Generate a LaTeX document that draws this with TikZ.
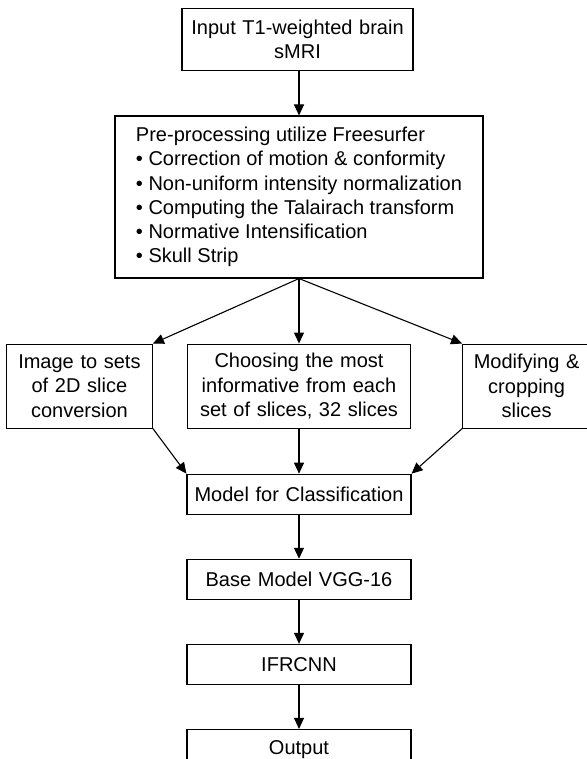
\documentclass[tikz,border=0pt]{standalone}
\usepackage{fontspec}
\setmainfont{Liberation Sans}
\usepackage{tikz}
\usetikzlibrary{positioning}
\usetikzlibrary{arrows.meta}
\tikzset{
    ->,
    >={Triangle[length=11pt,width=10pt]},
    node distance=44pt,
    every node/.style={font=\fontsize{20}{24.3}\selectfont},
    box node/.style={draw,inner sep=0pt,align=center,text width=224pt,minimum height=40pt},
    list node/.style={draw,inner xsep=20pt,inner ysep=0pt,align=left,minimum width=368pt,minimum height=162pt}
}
\begin{document}
\begin{tikzpicture}[line width=1.1pt]
    \useasboundingbox (0,0) rectangle (586pt,-759pt);
    \node(pre)[list node] at (299pt,-197pt) {Pre-processing utilize Freesurfer\\
        \textbullet\ Correction of motion \& conformity\\
        \textbullet\ Non-uniform intensity normalization\\
        \textbullet\ Computing the Talairach transform\\
        \textbullet\ Normative Intensification\\
        \textbullet\ Skull Strip};
    \node(input)[box node,text width=231pt,minimum height=62.5pt,above=44pt of pre,xshift=-1.5pt] {Input T1-weighted brain\\sMRI};
    \node(choose)[box node,text width=223pt,minimum height=84pt,below=65pt of pre] {Choosing the most\\informative from each\\set of slices, 32 slices};
    \node(slices)[box node,text width=146pt,minimum height=84pt,left=34pt of choose] {Image to sets\\of 2D slice\\conversion};
    \node(modify)[box node,text width=128pt,minimum height=84pt,right=51pt of choose] {Modifying \&\\cropping\\slices};
    \node(model)[box node,below=45pt of choose] {Model for Classification};
    \node(vgg)[box node,below=of model] {Base Model VGG-16};
    \node(ifrcnn)[box node,below=of vgg] {IFRCNN};
    \node(output)[box node,below=of ifrcnn] {Output};
    \draw (pre.north |- input.south) -- (pre.north);
    \draw (pre.south) -- (slices.north east);
    \draw (pre.south) -- (choose.north);
    \draw (pre.south) -- (modify.north west);
    \draw (slices.south east) -- (model.north west);
    \draw (choose.south) -- (model.north);
    \draw (modify.south west) -- (model.north east);
    \draw (model) -- (vgg);
    \draw (vgg) -- (ifrcnn);
    \draw (ifrcnn) -- (output);
\end{tikzpicture}
\end{document}
